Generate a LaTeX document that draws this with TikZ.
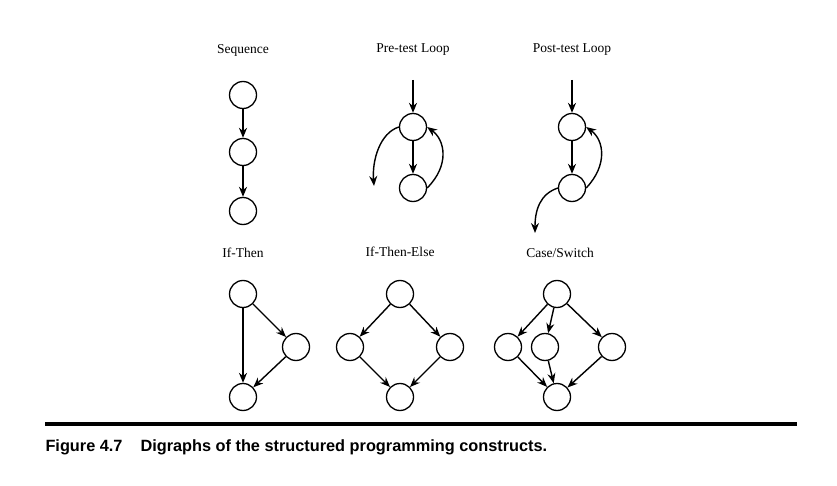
\documentclass[tikz,border=0pt]{standalone}
\usepackage{fontspec}
\setmainfont{Liberation Serif}
\setsansfont{Liberation Sans}
\usetikzlibrary{arrows.meta}
\begin{document}
\begin{tikzpicture}[x=1pt,y=-1pt,
  v/.style={circle,draw,line width=1.3pt,minimum size=27pt,inner sep=0pt},
  lab/.style={font=\fontsize{13.5}{16}\selectfont},
  e/.style={-{Stealth[length=10pt,width=8pt]},line width=1.4pt}]
\useasboundingbox (0,0) rectangle (837,486);
% labels
\node[lab] (l1) at (243,50) {Sequence};
\node[lab] (l2) at (413,50) {Pre-test Loop};
\node[lab] (l3) at (572,50) {Post-test Loop};
\node[lab] (l4) at (243,253) {If-Then};
\node[lab] (l5) at (400,252) {If-Then-Else};
\node[lab] (l6) at (560,253) {Case/Switch};
% sequence
\node[v] (s1) at (243,95) {};
\node[v] (s2) at (243,152) {};
\node[v] (s3) at (243,211) {};
\draw[e] (s1) -- (s2);
\draw[e] (s2) -- (s3);
% pre-test
\coordinate (pin) at (413,80);
\coordinate (pout) at (374,186);
\node[v] (p1) at (413,127) {};
\node[v] (p2) at (413,188) {};
\draw[e] (pin) -- (p1);
\draw[e] (p1) -- (p2);
\draw[e] (p2.east) .. controls (450,165) and (445,140) .. (p1.east);
\draw[e] (p1.west) .. controls (380,133) and (372,160) .. (pout);
% post-test
\coordinate (qin) at (572,80);
\coordinate (qout) at (535,233);
\node[v] (q1) at (572,127) {};
\node[v] (q2) at (572,188) {};
\draw[e] (qin) -- (q1);
\draw[e] (q1) -- (q2);
\draw[e] (q2.east) .. controls (608,165) and (604,140) .. (q1.east);
\draw[e] (q2.west) .. controls (540,194) and (535,210) .. (qout);
% if-then
\node[v] (a1) at (243,294) {};
\node[v] (a2) at (296,347) {};
\node[v] (a3) at (243,397) {};
\draw[e] (a1) -- (a2);
\draw[e] (a1) -- (a3);
\draw[e] (a2) -- (a3);
% if-then-else
\node[v] (b1) at (400,294) {};
\node[v] (b2) at (350,347) {};
\node[v] (b3) at (450,347) {};
\node[v] (b4) at (400,397) {};
\draw[e] (b1) -- (b2);
\draw[e] (b1) -- (b3);
\draw[e] (b2) -- (b4);
\draw[e] (b3) -- (b4);
% case
\node[v] (c1) at (557,294) {};
\node[v] (c2) at (508,347) {};
\node[v] (c3) at (545,347) {};
\node[v] (c4) at (612,347) {};
\node[v] (c5) at (557,397) {};
\draw[e] (c1) -- (c2);
\draw[e] (c1) -- (c3);
\draw[e] (c1) -- (c4);
\draw[e] (c2) -- (c5);
\draw[e] (c3) -- (c5);
\draw[e] (c4) -- (c5);
% rule and caption
\draw[line width=4pt] (45,424) -- (797,424);
\node[anchor=west,font=\sffamily\bfseries\fontsize{16.3}{19}\selectfont] (cap) at (42,447) {Figure 4.7\hspace{18pt}Digraphs of the structured programming constructs.};
\end{tikzpicture}
\end{document}
